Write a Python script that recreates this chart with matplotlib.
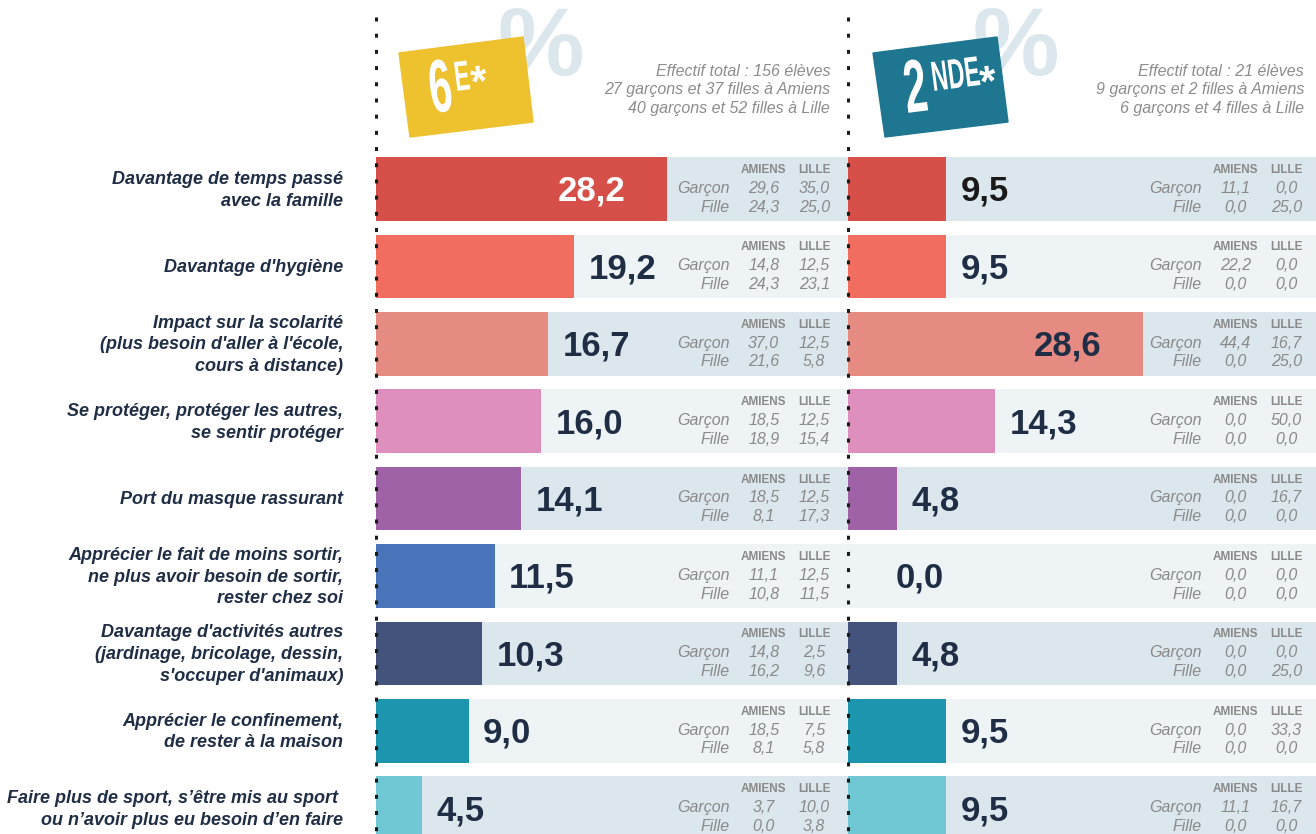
import matplotlib.pyplot as plt
from matplotlib.patches import Polygon, PathPatch
from matplotlib.textpath import TextPath
from matplotlib.font_manager import FontProperties
from matplotlib.transforms import Affine2D

plt.rcParams['font.family'] = ['Liberation Sans', 'DejaVu Sans']

categories = [
    "Davantage de temps passé\navec la famille",
    "Davantage d'hygiène",
    "Impact sur la scolarité\n(plus besoin d'aller à l'école,\ncours à distance)",
    "Se protéger, protéger les autres,\nse sentir protéger",
    "Port du masque rassurant",
    "Apprécier le fait de moins sortir,\nne plus avoir besoin de sortir,\nrester chez soi",
    "Davantage d'activités autres\n(jardinage, bricolage, dessin,\ns'occuper d'animaux)",
    "Apprécier le confinement,\nde rester à la maison",
    "Faire plus de sport, s’être mis au sport \nou n’avoir plus eu besoin d’en faire",
]

# 6e
sixieme = [28.2, 19.2, 16.7, 16.0, 14.1, 11.5, 10.3, 9.0, 4.5]
sixieme_garcon_amiens = [29.6, 14.8, 37.0, 18.5, 18.5, 11.1, 14.8, 18.5, 3.7]
sixieme_garcon_lille = [35.0, 12.5, 12.5, 12.5, 12.5, 12.5, 2.5, 7.5, 10.0]
sixieme_fille_amiens = [24.3, 24.3, 21.6, 18.9, 8.1, 10.8, 16.2, 8.1, 0.0]
sixieme_fille_lille = [25.0, 23.1, 5.8, 15.4, 17.3, 11.5, 9.6, 5.8, 3.8]
sixieme_notes = ["Effectif total : 156 élèves",
                 "27 garçons et 37 filles à Amiens",
                 "40 garçons et 52 filles à Lille"]

# 2nde
seconde = [9.5, 9.5, 28.6, 14.3, 4.8, 0.0, 4.8, 9.5, 9.5]
seconde_garcon_amiens = [11.1, 22.2, 44.4, 0.0, 0.0, 0.0, 0.0, 0.0, 11.1]
seconde_garcon_lille = [0.0, 0.0, 16.7, 50.0, 16.7, 0.0, 0.0, 33.3, 16.7]
seconde_fille_amiens = [0.0, 0.0, 0.0, 0.0, 0.0, 0.0, 0.0, 0.0, 0.0]
seconde_fille_lille = [25.0, 0.0, 25.0, 0.0, 0.0, 0.0, 25.0, 0.0, 0.0]
seconde_notes = ["Effectif total : 21 élèves",
                 "9 garçons et 2 filles à Amiens",
                 "6 garçons et 4 filles à Lille"]

bar_colors = ['#d64f48', '#f06d5f', '#e68b82', '#df8fbe', '#9f62a7',
              '#4a74ba', '#43537c', '#1e95af', '#6fc8d4']
bg_colors = ['#dbe6ed', '#eef3f6']
navy = '#1f2d45'
grey = '#8a8a8a'

W, H = 1316, 834
S = 10.31      # px par point de pourcentage
P = 77.4       # px entre deux lignes
n = len(categories)


def fmt(v):
    return f"{v:.1f}".replace('.', ',')


fig = plt.figure(figsize=(W / 100, H / 100), dpi=100)

top_px = 150
y_top = -(189 - top_px) / P
y_bot = (n - 1) + (H - (189 + (n - 1) * P)) / P


def panel(x0, width, values, ga, gl, fa, fl, label_colors):
    ax = fig.add_axes([x0 / W, 0, width / W, (H - top_px) / H])
    xmax = width / S
    ax.set_xlim(0, xmax)
    ax.set_ylim(y_bot, y_top)
    ax.axis('off')
    ys = list(range(n))
    ax.barh(ys, [xmax] * n, height=0.823,
            color=[bg_colors[i % 2] for i in ys], zorder=0)
    ax.barh(ys, values, height=0.823, color=bar_colors, zorder=1)
    for i, v in enumerate(values):
        if v > 25:
            ax.text(v - 4.0, i + 0.03, fmt(v), ha='right', va='center',
                    fontsize=25, weight='bold', color=label_colors[i], zorder=3)
        else:
            ax.text(max(v + 1.4, 4.6), i + 0.03, fmt(v), ha='left', va='center',
                    fontsize=25, weight='bold', color=label_colors[i], zorder=3)
        ax.text(37.6, i - 0.245, 'AMIENS', ha='center', va='center',
                fontsize=8.5, weight='bold', color=grey)
        ax.text(42.5, i - 0.245, 'LILLE', ha='center', va='center',
                fontsize=8.5, weight='bold', color=grey)
        ax.text(34.3, i - 0.01, 'Garçon', ha='right', va='center',
                fontsize=11.5, style='italic', color=grey)
        ax.text(34.3, i + 0.235, 'Fille', ha='right', va='center',
                fontsize=11.5, style='italic', color=grey)
        ax.text(37.6, i - 0.01, fmt(ga[i]), ha='center', va='center',
                fontsize=11.5, style='italic', color=grey)
        ax.text(42.5, i - 0.01, fmt(gl[i]), ha='center', va='center',
                fontsize=11.5, style='italic', color=grey)
        ax.text(37.6, i + 0.235, fmt(fa[i]), ha='center', va='center',
                fontsize=11.5, style='italic', color=grey)
        ax.text(42.5, i + 0.235, fmt(fl[i]), ha='center', va='center',
                fontsize=11.5, style='italic', color=grey)
    return ax


left_colors = ['white'] + [navy] * (n - 1)
right_colors = ['#1a1a1a'] + [navy] * (n - 1)
ax1 = panel(376, 472, sixieme, sixieme_garcon_amiens, sixieme_garcon_lille,
            sixieme_fille_amiens, sixieme_fille_lille, left_colors)
ax2 = panel(848, 468, seconde, seconde_garcon_amiens, seconde_garcon_lille,
            seconde_fille_amiens, seconde_fille_lille, right_colors)

for i, cat in enumerate(categories):
    ax1.text(-33 / S, i + 0.015, cat, ha='right', va='center', fontsize=13,
             weight='bold', style='italic', color=navy, linespacing=1.36,
             clip_on=False)

# calque pour l'en-tête et les pointillés
ov = fig.add_axes([0, 0, 1, 1], zorder=10)
ov.set_xlim(0, W)
ov.set_ylim(H, 0)
ov.axis('off')
ov.patch.set_alpha(0)

for x in (376, 848):
    ov.plot([x, x], [17, H], color='#1a1a1a', lw=2.2,
            linestyle=(0, (1.3, 4.0)), solid_capstyle='butt')

bold = FontProperties(family='Liberation Sans', weight='bold')


def glyph(txt, size, x, y, sx=0.55, angle=7.3, color='white', z=5):
    tp = TextPath((0, 0), txt, size=size, prop=bold)
    tr = Affine2D().scale(sx, -1).rotate_deg(-angle).translate(x, y)
    ov.add_patch(PathPatch(tr.transform_path(tp), color=color, lw=0, zorder=z))


def badge(corners, color, pct_x, big, small, bx, ex, ax_):
    ov.text(pct_x, 50, '%', ha='center', va='center', fontsize=70,
            weight='bold', color='#dce6ed', zorder=1)
    ov.add_patch(Polygon(corners, closed=True, color=color, zorder=3))
    glyph(big, 75, bx, 113)
    glyph(small, 42, ex, 91)
    glyph('*', 44, ax_, 97, sx=0.95)


badge([(399, 53), (523, 37), (533, 122), (410, 137)], '#eec12e', 541,
      '6', 'E', 432, 456, 473)
badge([(873, 53), (997, 37), (1008, 122), (885, 137)], '#1f7690', 1016,
      '2', 'NDE', 907, 933, 982)

for notes, xr in ((sixieme_notes, 830), (seconde_notes, 1304)):
    for k, line in enumerate(notes):
        ov.text(xr, 71 + k * 18.7, line, ha='right', va='center',
                fontsize=11.5, style='italic', color='#8c8c8c')

fig.savefig('out.png', dpi=100)
